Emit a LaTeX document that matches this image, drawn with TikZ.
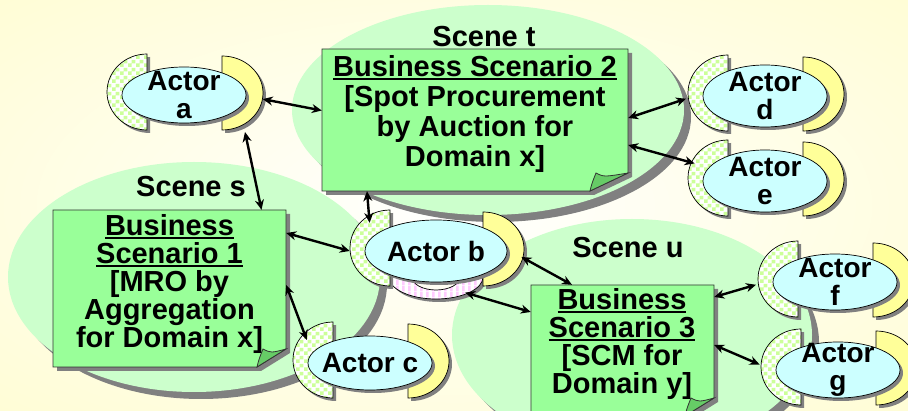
\documentclass[tikz,border=0pt]{standalone}
\usepackage{fontspec}
\setmainfont{Liberation Sans}
\usetikzlibrary{arrows.meta,shapes.geometric,patterns}

\definecolor{scenefill}{RGB}{204,255,204}
\definecolor{shadowgray}{RGB}{128,128,128}
\definecolor{boxfill}{RGB}{153,255,153}
\definecolor{foldfill}{RGB}{102,204,102}
\definecolor{actfill}{RGB}{204,255,255}
\definecolor{yelpiece}{RGB}{255,255,153}
\definecolor{chkgreen}{RGB}{204,255,153}
\definecolor{pinkst}{RGB}{255,204,255}
\definecolor{bgA}{RGB}{255,252,200}
\definecolor{bgB}{RGB}{255,247,130}

\pgfdeclarepatternformonly{bigcheck}{\pgfpointorigin}{\pgfqpoint{8pt}{8pt}}{\pgfqpoint{8pt}{8pt}}{%
  \pgfpathrectangle{\pgfpointorigin}{\pgfqpoint{4pt}{4pt}}%
  \pgfpathrectangle{\pgfqpoint{4pt}{4pt}}{\pgfqpoint{4pt}{4pt}}%
  \pgfusepath{fill}}
\pgfdeclarepatternformonly{pinkstripes}{\pgfpointorigin}{\pgfqpoint{6pt}{6pt}}{\pgfqpoint{6pt}{6pt}}{%
  \pgfpathrectangle{\pgfpointorigin}{\pgfqpoint{3pt}{6pt}}\pgfusepath{fill}}
\pgfdeclareradialshading{bgshade}{\pgfpoint{0bp}{0bp}}{color(0bp)=(white); color(18bp)=(white!60!bgA); color(48bp)=(bgA); color(72bp)=(bgB)}

\newcommand\ulx[1]{\setbox0=\hbox{#1}\rlap{\rule[-3.5pt]{\wd0}{2pt}}\box0}

\tikzset{
  txt/.style={font=\fontsize{29}{28}\selectfont\bfseries, align=center, inner sep=0pt},
  acttxt/.style={font=\fontsize{28}{28}\selectfont\bfseries, align=center, inner sep=0pt},
  actornode/.style={ellipse, inner sep=0pt, minimum width=158pt, minimum height=76pt, acttxt},
  boxnode/.style={rectangle, inner sep=0pt},
  boxline/.style={draw=black!80, line width=.8pt},
  pieceline/.style={draw=black, line width=.7pt},
  arr/.style={{Stealth[length=10pt,width=9pt]}-{Stealth[length=10pt,width=9pt]}, line width=2.4pt},
}

% actor body: cx, cy, rx, ry
\newcommand\actorbody[4]{%
  \pgfmathsetmacro\lfx{#1-#3+25}%
  \pgfmathsetmacro\rfx{#1+#3-24}%
  \pgfmathsetmacro\ltop{#2-3-38}%
  \pgfmathsetmacro\rtop{#2-2-37}%
  \fill[shadowgray,shift={(3,3)}] (\lfx,\ltop) arc[start angle=90,end angle=270,x radius=40pt,y radius=38pt] -- cycle;
  \fill[shadowgray,shift={(3,3)}] (\rfx,\rtop) arc[start angle=90,end angle=-90,x radius=41pt,y radius=37pt] -- cycle;
  \path[pieceline,preaction={fill=white},pattern=bigcheck,pattern color=chkgreen] (\lfx,\ltop) arc[start angle=90,end angle=270,x radius=40pt,y radius=38pt] -- cycle;
  \path[pieceline,fill=yelpiece] (\rfx,\rtop) arc[start angle=90,end angle=-90,x radius=41pt,y radius=37pt] -- cycle;
  \fill[shadowgray,shift={(3,3)}] (#1,#2) ellipse[x radius=#3pt,y radius=#4pt];
  \path[pieceline,fill=actfill] (#1,#2) ellipse[x radius=#3pt,y radius=#4pt];
}

% business scenario box: name, L, T, R, B, fold
\newcommand\bsbox[6]{%
  \fill[shadowgray,shift={(4,4)}] (#2,#3) -- (#4,#3) -- (#4,{#5-18}) -- ({#4-#6},#5) -- (#2,#5) -- cycle;
  \path[boxline,fill=boxfill] (#2,#3) -- (#4,#3) -- (#4,{#5-18}) -- ({#4-#6},#5) -- (#2,#5) -- cycle;
  \path[boxline,fill=foldfill] ({#4-#6},#5) .. controls ({#4-#6+2},{#5-8}) .. ({#4-#6+6},{#5-18})
     .. controls ({#4-#6+14},{#5-14}) .. (#4,{#5-18}) -- cycle;
  \node[boxnode, minimum width={(#4-#2)*1pt}, minimum height={(#5-#3)*1pt}] (#1) at ({(#2+#4)/2},{(#3+#5)/2}) {};
}

\begin{document}
\begin{tikzpicture}[x=1pt,y=-1pt]
\useasboundingbox (0,0) rectangle (908,411);
\clip (0,0) rectangle (908,411);
\shade[shading=bgshade] (0,0) rectangle (908,411);

% scenes
\fill[shadowgray] (495,117) ellipse[x radius=196pt,y radius=105pt];
\fill[scenefill] (488,110) ellipse[x radius=196pt,y radius=105pt];
\fill[shadowgray] (201,284) ellipse[x radius=186pt,y radius=115pt];
\fill[scenefill] (194,277) ellipse[x radius=186pt,y radius=115pt];
\fill[shadowgray] (639,342) ellipse[x radius=180pt,y radius=116pt];
\fill[scenefill] (632,335) ellipse[x radius=180pt,y radius=116pt];

% boxes
\bsbox{bs2}{322}{49}{628}{191}{38}
\bsbox{bs1}{53}{210}{286}{367}{29}
\bsbox{bs3}{531}{285}{714}{416}{29}

% actors
\actorbody{184}{95}{62}{28}
\node[actornode] (a) at (184,95) {Actor\\a};
\actorbody{765}{96}{62}{31}
\node[actornode] (d) at (765,96) {Actor\\d};
\actorbody{765}{181}{62}{31}
\node[actornode] (e) at (765,181) {Actor\\e};
\fill[shadowgray,shift={(3,3)}] (389,277) arc[start angle=180,end angle=360,x radius=47pt,y radius=22pt]
   -- (460,277) arc[start angle=360,end angle=180,x radius=24pt,y radius=13pt] -- cycle;
\path[pieceline,preaction={fill=white},pattern=pinkstripes,pattern color=pinkst] (389,277) arc[start angle=180,end angle=360,x radius=47pt,y radius=22pt]
   -- (460,277) arc[start angle=360,end angle=180,x radius=24pt,y radius=13pt] -- cycle;
\actorbody{436}{251}{71}{31}
\node[actornode, minimum width=172pt, minimum height=88pt] (b) at (436,251) {Actor b};
\actorbody{370}{363}{62}{27}
\node[actornode] (c) at (370,363) {Actor c};
\actorbody{835}{282}{62}{28}
\node[actornode] (f) at (835,282) {Actor\\f};
\actorbody{838}{370}{62}{28}
\node[actornode] (g) at (838,370) {Actor\\g};

% connectors
\draw[arr] (a.-3) -- ([yshift=9.5pt]bs2.west);
\draw[arr] ([shift={(61,37)}]a.center) -- ([xshift=92pt]bs1.north);
\draw[arr] ([yshift=2pt]bs2.east) -- (d.182);
\draw[arr] ([yshift=-25pt]bs2.east) -- (e.166);
\draw[arr] ([xshift=-108pt]bs2.south) -- (b.157);
\draw[arr] ([yshift=55.5pt]bs1.east) -- (b.180);
\draw[arr] ([yshift=3.5pt]bs1.east) -- (c.160);
\draw[arr] (b.-4) -- ([xshift=-50.5pt]bs3.north);
\draw[arr] (b.-55) -- ([yshift=38.5pt]bs3.west);
\draw[arr] ([yshift=53.5pt]bs3.east) -- (f.182);
\draw[arr] ([yshift=5.5pt]bs3.east) -- (g.176);

% texts
\node[txt] (sct) at (484,37) {Scene t};
\node[txt] (scs) at (191,187) {Scene s};
\node[txt] (scu) at (628,248) {Scene u};
\node[txt, font=\fontsize{29}{30}\selectfont\bfseries] (bs2t) at (475,114) {\ulx{Business Scenario 2}\\{[}Spot Procurement\\by Auction for\\Domain x{]}};
\node[txt] (bs1t) at (169.5,284) {\ulx{Business}\\\ulx{Scenario 1}\\{[}MRO by\\Aggregation\\for Domain x{]}};
\node[txt] (bs3t) at (622,344) {\ulx{Business}\\\ulx{Scenario 3}\\{[}SCM for\\Domain y{]}};
\end{tikzpicture}
\end{document}
